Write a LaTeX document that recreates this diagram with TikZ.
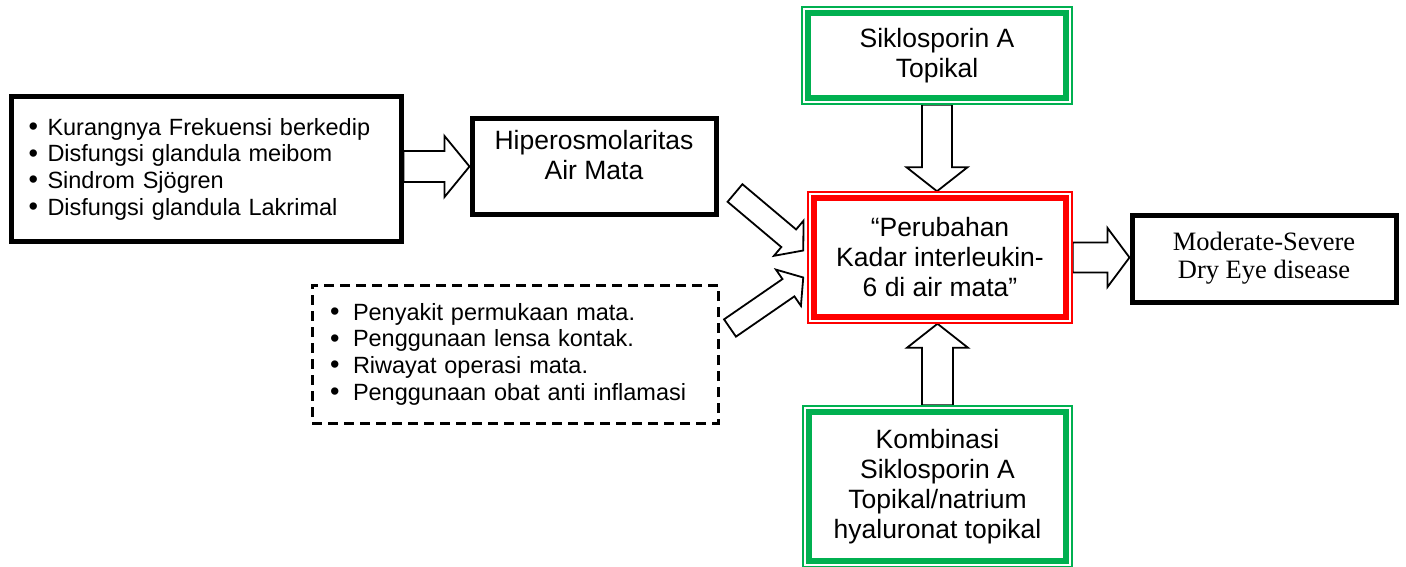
\documentclass[tikz,border=0pt]{standalone}
\usepackage{fontspec}
\setmainfont{Liberation Sans}
\newfontfamily\seriffont{Liberation Serif}
\usetikzlibrary{calc,fit}
\definecolor{wgreen}{RGB}{0,176,80}
\definecolor{wred}{RGB}{255,0,0}
\pgfdeclarelayer{bg}
\pgfsetlayers{bg,main}
\tikzset{
  blackbox/.style={draw=black, line width=5pt, rectangle, inner sep=0pt, align=center},
  greenbox/.style={draw=wgreen, line width=6pt, rectangle, inner sep=0pt, align=center},
  redbox/.style={draw=wred, line width=5.5pt, rectangle, inner sep=0pt, align=center},
  gframe/.style={draw=wgreen, line width=1.5pt, rectangle, inner sep=3pt},
  rframe/.style={draw=wred, line width=1.5pt, rectangle, inner sep=3.25pt},
  dashbox/.style={draw=black, line width=3pt, dash pattern=on 10pt off 6pt, rectangle, inner sep=0pt},
  blockarrow/.style={draw=black, fill=white, line width=1.8pt, line join=miter},
  bigtxt/.style={font=\fontsize{26.5}{30}\selectfont},
  listtxt/.style={font=\fontsize{23.5}{26.7}\selectfont, align=left},
  sertxt/.style={font=\seriffont\fontsize{26.5}{28}\selectfont},
}
\newcommand\bitem[2]{\makebox[#1][l]{\raisebox{-0.5pt}{\scalebox{1.15}{•}}}#2}
% #1 start, #2 end, #3 shaft half width, #4 head half width, #5 head length
\newcommand\blockarr[5]{%
  \path ($(#2)!#5!(#1)$) coordinate (bah);
  \draw[blockarrow] ($(#1)!#3!90:(#2)$) -- ($(bah)!#3!90:(#2)$) -- ($(bah)!#4!90:(#2)$)
    -- (#2) -- ($(bah)!#4!-90:(#2)$) -- ($(bah)!#3!-90:(#2)$) -- ($(#1)!#3!-90:(#2)$) -- cycle;
}
\begin{document}
\begin{tikzpicture}[x=1pt,y=-1pt]
\useasboundingbox (0,0) rectangle (1406,567);

% boxes
\node[blackbox, listtxt, minimum width=390pt, minimum height=144pt, text width=355pt] (A) at (206,169)
  {\bitem{19pt}{Kurangnya Frekuensi berkedip}\\
   \bitem{19pt}{Disfungsi glandula meibom}\\
   \bitem{19pt}{Sindrom Sjögren}\\
   \bitem{19pt}{Disfungsi glandula Lakrimal}};

\node[blackbox, bigtxt, minimum width=244pt, minimum height=95pt] (B) at (594,166.5)
  {Hiperosmolaritas\\Air Mata\\[-6pt]};

\node[dashbox, listtxt, minimum width=406pt, minimum height=138pt, text width=370pt] (G) at (515,354)
  {\bitem{23pt}{Penyakit permukaan mata.}\\
   \bitem{23pt}{Penggunaan lensa kontak.}\\
   \bitem{23pt}{Riwayat operasi mata.}\\
   \bitem{23pt}{Penggunaan obat anti inflamasi}};

\node[redbox, bigtxt, minimum width=252pt, minimum height=119pt] (C) at (940,257.5)
  {“Perubahan\\Kadar interleukin-\\6 di air mata”};
\node[rframe, fit=(C)] (Cf) {};

\node[greenbox, bigtxt, minimum width=258pt, minimum height=85pt] (D) at (937,55.5)
  {Siklosporin A\\Topikal};
\node[gframe, fit=(D)] (Df) {};

\node[greenbox, bigtxt, minimum width=257pt, minimum height=149pt] (E) at (937.5,486.5)
  {Kombinasi\\Siklosporin A\\Topikal/natrium\\hyaluronat topikal};
\node[gframe, fit=(E)] (Ef) {};

\node[blackbox, sertxt, minimum width=264pt, minimum height=87pt] (F) at (1264,258.5)
  {Moderate-Severe\\Dry Eye disease};

% connector end points
\coordinate (ab1) at (A.east |- B.west);
\coordinate (dc2) at (Df.south |- Cf.north);
\coordinate (ec2) at (Ef.north |- Cf.south);
\coordinate (cf2) at (F.west |- Cf.east);
\coordinate (t1) at (735,193);
\coordinate (c1) at ($(Cf.west)+(-4,-7)$);
\coordinate (t2) at (730,328);
\coordinate (c2) at ($(Cf.west)+(-4,20)$);

\begin{pgfonlayer}{bg}
\blockarr{ab1}{B.west}{15.5pt}{30.5pt}{25pt}
\blockarr{Df.south}{dc2}{15pt}{30.5pt}{24pt}
\blockarr{Ef.north}{ec2}{15.5pt}{30.5pt}{24pt}
\blockarr{Cf.east}{cf2}{15pt}{29.5pt}{22pt}
\blockarr{t1}{c1}{11.5pt}{23pt}{19pt}
\blockarr{t2}{c2}{10.5pt}{22pt}{18pt}
\end{pgfonlayer}
\end{tikzpicture}
\end{document}
